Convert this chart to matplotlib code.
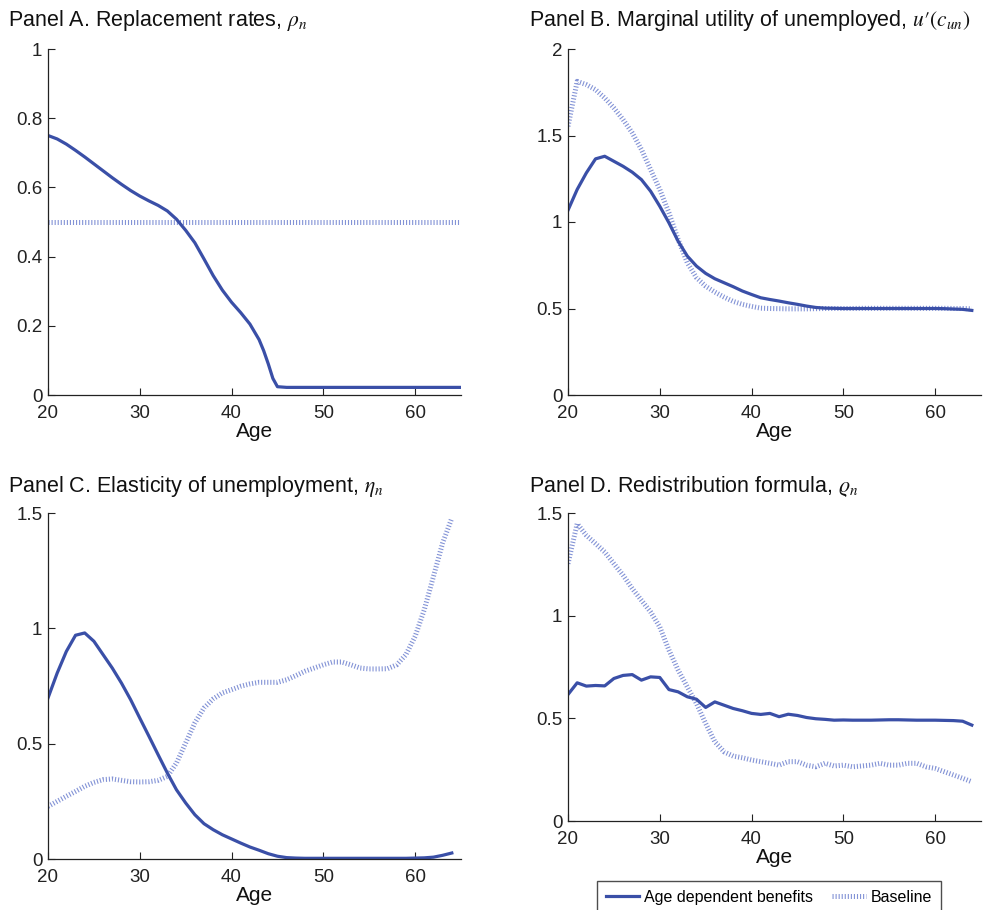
import numpy as np
import matplotlib
matplotlib.use("Agg")
import matplotlib.pyplot as plt

plt.rcParams["font.family"] = ["Liberation Sans", "DejaVu Sans"]
plt.rcParams["mathtext.fontset"] = "stix"
plt.rcParams["lines.scale_dashes"] = False

# data
ages_a = list(range(20, 44)) + [43.5, 44, 44.5, 45] + list(range(46, 66))
ages = list(range(20, 65))

rho_age = [0.750, 0.740, 0.725, 0.707, 0.688, 0.668, 0.648, 0.628, 0.609, 0.591,
           0.575, 0.561, 0.548, 0.532, 0.508, 0.476, 0.440, 0.393, 0.345, 0.303,
           0.268, 0.238, 0.205, 0.160, 0.128, 0.090, 0.048, 0.024] + [0.022] * 20
rho_base = [0.5] * 48

mu_age = [1.068, 1.188, 1.284, 1.365, 1.380, 1.351, 1.322, 1.288, 1.245, 1.178,
          1.091, 0.995, 0.889, 0.803, 0.745, 0.703, 0.672, 0.649, 0.626, 0.601,
          0.581, 0.562, 0.552, 0.543, 0.533, 0.524, 0.514, 0.506, 0.502, 0.501,
          0.500, 0.500, 0.500, 0.500, 0.500, 0.500, 0.500, 0.500, 0.500, 0.500,
          0.500, 0.499, 0.497, 0.495, 0.489]
mu_base = [1.553, 1.813, 1.794, 1.765, 1.717, 1.659, 1.592, 1.515, 1.419, 1.303,
           1.188, 1.053, 0.899, 0.764, 0.678, 0.629, 0.595, 0.566, 0.541, 0.524,
           0.512, 0.502, 0.500, 0.499, 0.498, 0.498, 0.498, 0.499, 0.500, 0.500,
           0.500, 0.500, 0.501, 0.501, 0.501, 0.501, 0.501, 0.501, 0.501, 0.501,
           0.501, 0.501, 0.500, 0.500, 0.498]

eta_age = [0.698, 0.806, 0.900, 0.970, 0.980, 0.944, 0.886, 0.828, 0.763, 0.691,
           0.611, 0.532, 0.452, 0.373, 0.300, 0.243, 0.192, 0.153, 0.127, 0.105,
           0.087, 0.069, 0.052, 0.038, 0.023, 0.012, 0.006, 0.004, 0.003, 0.003,
           0.003, 0.003, 0.003, 0.003, 0.003, 0.003, 0.003, 0.003, 0.003, 0.003,
           0.004, 0.005, 0.008, 0.016, 0.026]
eta_base = [0.228, 0.250, 0.272, 0.293, 0.315, 0.332, 0.344, 0.347, 0.341, 0.335,
            0.334, 0.335, 0.341, 0.358, 0.416, 0.503, 0.590, 0.655, 0.694, 0.720,
            0.734, 0.749, 0.759, 0.766, 0.766, 0.766, 0.777, 0.795, 0.814, 0.828,
            0.842, 0.854, 0.854, 0.842, 0.828, 0.824, 0.824, 0.825, 0.842, 0.886,
            0.965, 1.081, 1.225, 1.370, 1.478]

red_age = [0.616, 0.673, 0.657, 0.660, 0.658, 0.694, 0.709, 0.713, 0.686, 0.702,
           0.699, 0.640, 0.629, 0.605, 0.593, 0.553, 0.580, 0.564, 0.548, 0.537,
           0.524, 0.519, 0.524, 0.508, 0.520, 0.514, 0.504, 0.498, 0.495, 0.491,
           0.492, 0.491, 0.491, 0.491, 0.492, 0.493, 0.493, 0.492, 0.491, 0.491,
           0.491, 0.490, 0.489, 0.486, 0.467]
red_base = [1.253, 1.448, 1.391, 1.351, 1.310, 1.253, 1.197, 1.132, 1.075, 1.018,
            0.945, 0.832, 0.735, 0.653, 0.572, 0.475, 0.386, 0.337, 0.316, 0.308,
            0.297, 0.289, 0.281, 0.272, 0.289, 0.289, 0.272, 0.264, 0.281, 0.268,
            0.272, 0.264, 0.268, 0.272, 0.281, 0.272, 0.272, 0.281, 0.281, 0.264,
            0.256, 0.240, 0.224, 0.208, 0.191]

xticks = [20, 30, 40, 50, 60]
yticks_a = [0, 0.2, 0.4, 0.6, 0.8, 1]
ylabels_a = ["0", "0.2", "0.4", "0.6", "0.8", "1"]
yticks_b = [0, 0.5, 1, 1.5, 2]
ylabels_b = ["0", "0.5", "1", "1.5", "2"]
yticks_cd = [0, 0.5, 1, 1.5]
ylabels_cd = ["0", "0.5", "1", "1.5"]

titles = ["Panel A. Replacement rates, $\\rho_n$",
          "Panel B. Marginal utility of unemployed, $u\\prime(c_{un})$",
          "Panel C. Elasticity of unemployment, $\\eta_n$",
          "Panel D. Redistribution formula, $\\varrho_n$"]

solid_col = "#3a4fa7"
base_col = "#8393d6"

W, H = 983, 910
fig = plt.figure(figsize=(W / 100, H / 100), dpi=100)


def px_axes(l, t, r, b):
    return fig.add_axes([l / W, 1 - b / H, (r - l) / W, (b - t) / H])


axA = px_axes(48, 49, 461, 395)
axB = px_axes(568, 49, 981, 395)
axC = px_axes(48, 513, 461, 859)
axD = px_axes(568, 513, 981, 821)

panels = [
    (axA, ages_a, rho_age, rho_base, 1, yticks_a, ylabels_a),
    (axB, ages, mu_age, mu_base, 2, yticks_b, ylabels_b),
    (axC, ages, eta_age, eta_base, 1.5, yticks_cd, ylabels_cd),
    (axD, ages, red_age, red_base, 1.5, yticks_cd, ylabels_cd),
]

for ax, x, ya, yb, ytop, yt, yl in panels:
    lb, = ax.plot(x, yb, color=base_col, lw=3.6, linestyle=(0, (0.8, 1.4)),
                  dash_capstyle="butt", label="Baseline")
    la, = ax.plot(x, ya, color=solid_col, lw=2.3, label="Age dependent benefits")
    ax.set_xlim(20, 65)
    ax.set_ylim(0, ytop)
    ax.set_xticks(xticks)
    ax.set_yticks(yt)
    ax.set_yticklabels(yl)
    ax.tick_params(direction="in", length=5, width=0.8, labelsize=13.5,
                   colors="#222222")
    ax.tick_params(axis="y", pad=4)
    ax.tick_params(axis="x", pad=7.5)
    for s in ["top", "right"]:
        ax.spines[s].set_visible(False)
    for s in ["left", "bottom"]:
        ax.spines[s].set_linewidth(0.9)
        ax.spines[s].set_color("#222222")
    ax.set_xlabel("Age", fontsize=15, labelpad=0, color="#111111")

# panel titles
fig.text(8 / W, 1 - 26 / H, titles[0], fontsize=15.5, color="#111111")
fig.text(529 / W, 1 - 26 / H, titles[1], fontsize=15.5, color="#111111")
fig.text(8 / W, 1 - 492 / H, titles[2], fontsize=15.5, color="#111111")
fig.text(529 / W, 1 - 492 / H, titles[3], fontsize=15.5, color="#111111")

fig.legend(handles=[la, lb], loc="upper center", ncol=2,
           bbox_to_anchor=(769 / W, 1 - 881 / H), borderaxespad=0,
           fontsize=11.5, frameon=True, fancybox=False, edgecolor="#222222",
           handlelength=2.1, handletextpad=0.3, columnspacing=1.2,
           borderpad=0.55)

fig.savefig("out.png", dpi=100)
